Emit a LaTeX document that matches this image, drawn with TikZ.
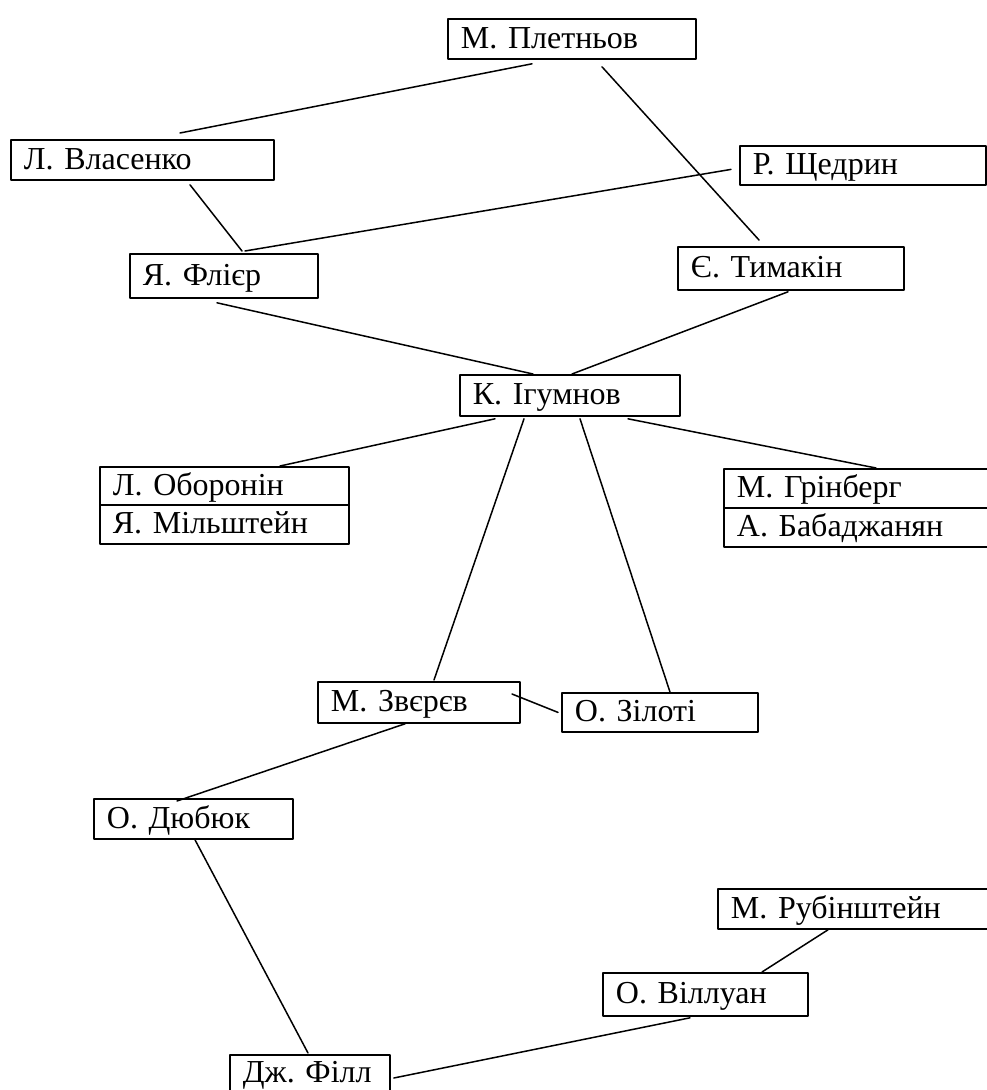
\documentclass[tikz,border=0pt]{standalone}
\usepackage{fontspec}
\setmainfont{Liberation Serif}
\usepackage{tikz}
\newcommand{\namesize}{\fontsize{32}{38}\selectfont\frenchspacing}

\begin{document}
\begin{tikzpicture}[line cap=round,line join=round,x=1pt,y=-1pt,
    pers/.style={draw,line width=1.8pt,anchor=north west,inner xsep=13pt,inner ysep=0pt,
      text height=24pt,text depth=5pt,align=left,font=\namesize},
    link/.style={line width=1.5pt}]
      \clip(0,0) rectangle (987,1090);
      % boxes
      \node [pers,text width=222pt,minimum height=40pt] (pletniov) at (447,18) {М. Плетньов};
      \node [pers,text width=237pt,minimum height=40pt] (vlasenko) at (10,139) {Л. Власенко};
      \node [pers,text width=220pt,minimum height=39pt] (shchedrin) at (739,145) {Р. Щедрин};
      \node [pers,text width=162pt,minimum height=44pt] (flier) at (129,253) {Я. Флієр};
      \node [pers,text width=200pt,minimum height=43pt] (tymakin) at (677,246) {Є. Тимакін};
      \node [pers,text width=194pt,minimum height=41pt] (igumnov) at (459,374) {К. Ігумнов};
      \node [pers,text width=223pt,minimum height=38pt] (oboronin) at (99,466) {Л. Оборонін};
      \node [pers,text width=223pt,minimum height=39pt] (milshtein) at (99,504) {Я. Мільштейн};
      \node [pers,text width=260pt,minimum height=39pt] (grinberg) at (723,468) {М. Грінберг};
      \node [pers,text width=260pt,minimum height=39pt] (babadzhanian) at (723,507) {А. Бабаджанян};
      \node [pers,text width=176pt,minimum height=41pt] (zveriev) at (317,681) {М. Звєрєв};
      \node [pers,text width=170pt,minimum height=39pt] (ziloti) at (561,692) {О. Зілоті};
      \node [pers,text width=173pt,minimum height=40pt] (diubiuk) at (93,798) {О. Дюбюк};
      \node [pers,text width=266pt,minimum height=40pt] (rubinstein) at (717,888) {М. Рубінштейн};
      \node [pers,text width=179pt,minimum height=43pt] (villuan) at (602,972) {О. Віллуан};
      \node [pers,text width=134pt,minimum height=37pt] (fill) at (229,1054) {Дж. Філл};
      % links
      \draw [link] ([shift={(85,4)}]pletniov.south west) -- ([shift={(170,-6)}]vlasenko.north west);
      \draw [link] ([shift={(155,7)}]pletniov.south west) -- ([shift={(82,-6)}]tymakin.north west);
      \draw [link] ([shift={(180,4)}]vlasenko.south west) -- ([shift={(113,-2)}]flier.north west);
      \draw [link] ([shift={(-8,4)}]shchedrin.west) -- ([shift={(116,-2)}]flier.north west);
      \draw [link] ([shift={(88,4)}]flier.south west) -- ([shift={(74,0)}]igumnov.north west);
      \draw [link] ([shift={(111,1)}]tymakin.south west) -- ([shift={(113,0)}]igumnov.north west);
      \draw [link] ([shift={(36,2)}]igumnov.south west) -- ([shift={(181,0)}]oboronin.north west);
      \draw [link] ([shift={(169,2)}]igumnov.south west) -- ([shift={(153,0)}]grinberg.north west);
      \draw [link] ([shift={(65,2)}]igumnov.south west) -- ([shift={(117,-1)}]zveriev.north west);
      \draw [link] ([shift={(121,2)}]igumnov.south west) -- ([shift={(109,0)}]ziloti.north west);
      \draw [link] ([shift={(195,13)}]zveriev.north west) -- ([shift={(-3,0)}]ziloti.west);
      \draw [link] ([shift={(88,0)}]zveriev.south west) -- ([shift={(84,3)}]diubiuk.north west);
      \draw [link] ([shift={(102,0)}]diubiuk.south west) -- ([shift={(79,-1)}]fill.north west);
      \draw [link] ([shift={(3,24)}]fill.north east) -- ([shift={(88,1)}]villuan.south west);
      \draw [link] ([shift={(160,0)}]villuan.north west) -- ([shift={(111,0)}]rubinstein.south west);
    \end{tikzpicture}
\end{document}
